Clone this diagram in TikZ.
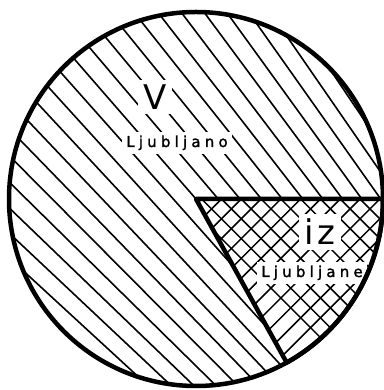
\documentclass[tikz,border=0pt]{standalone}
\usepackage{fontspec}
\newfontfamily\handfont[LetterSpace=28, FakeBold=1.5]{DejaVu Sans}
\newfontfamily\bighand[LetterSpace=12]{DejaVu Sans}
\usetikzlibrary{calc}
\tikzset{
  rim/.style={line width=4.5pt},
  hatchline/.style={line width=1.6pt},
  crossline/.style={line width=1.5pt},
  bigword/.style={font=\bighand\fontsize{34}{34}\selectfont, fill=white, inner sep=5pt},
  cityword/.style={font=\handfont\fontsize{15}{15}\selectfont, fill=white, inner sep=4pt}
}

\begin{document}
\begin{tikzpicture}[x=1pt, y=1pt]

    \useasboundingbox (0,0) rectangle (383,390);
    \coordinate (ctr) at (196,191);

    % Single hatching of the whole disc (slight fan, as drawn by hand)
    \begin{scope}
        \clip (ctr) circle (187);
        \foreach \t in {-187,-170,...,187} {
            \pgfmathsetmacro{\a}{42+(\t+187)/374*14}
            \draw[hatchline] ($(ctr)+(45:\t)+(-\a:-300)$) -- ($(ctr)+(45:\t)+(-\a:300)$);
        }
        % Wedge: cleared, then cross hatched
        \fill[white] (ctr) -- ($(ctr)+(0:187)$) arc[start angle=0, end angle=-61, radius=187] -- cycle;
        \clip (ctr) -- ($(ctr)+(0:187)$) arc[start angle=0, end angle=-61, radius=187] -- cycle;
        \foreach \t in {-10,4,...,200} {
            \draw[crossline] ($(ctr)+(45:\t)+(-45:-300)$) -- ($(ctr)+(45:\t)+(-45:300)$);
        }
        \foreach \t in {-200,-186,...,10} {
            \draw[crossline] ($(ctr)+(-45:-\t)+(45:-300)$) -- ($(ctr)+(-45:-\t)+(45:300)$);
        }
    \end{scope}

    % Labels
    \node[bigword] (vword) at (155,293) {V};
    \node[cityword, anchor=base] (vcity) at (177,243) {Ljubljano};
    \node[bigword, anchor=base] (izword) at (320,145) {iz};
    \node[cityword, anchor=base] (izcity) at (312,113) {Ljubljane};

    % Outlines
    \draw[rim, line join=round] (ctr) -- ($(ctr)+(0:187)$) arc[start angle=0, end angle=-61, radius=187] -- cycle;
    \draw[rim] (ctr) circle (187);

\end{tikzpicture}
\end{document}
